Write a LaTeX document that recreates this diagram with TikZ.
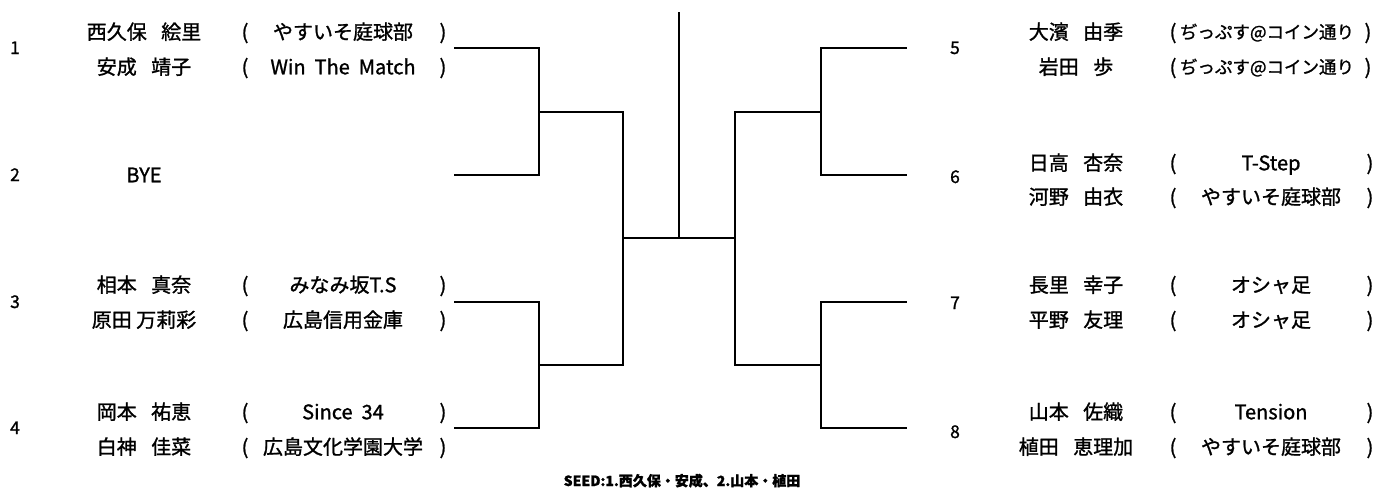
\documentclass[tikz,border=0pt]{standalone}
\usepackage{fontspec}
\setmainfont{Noto Sans CJK JP}[FakeBold=1.2]
\newcommand{\nsp}{\hspace{0.72em}}
\begin{document}
\begin{tikzpicture}[x=1pt,y=-1pt,
  br/.style={line width=1.7pt, line join=miter, line cap=rect},
  txt/.style={font=\fontsize{20}{20}\selectfont, inner sep=0pt, text height=16.5pt, text depth=2pt},
  smalltxt/.style={font=\fontsize{17.5}{17.5}\selectfont, inner sep=0pt, text height=15pt, text depth=2pt},
  num/.style={font=\fontsize{17.5}{17.5}\selectfont, inner sep=0pt, text height=13pt, text depth=1pt},
  seedtxt/.style={font=\bfseries\fontsize{14}{14}\selectfont, inner sep=0pt, text height=11.5pt, text depth=1.5pt}]
\useasboundingbox (0,0) rectangle (1377,488);

% ---------- left side texts ----------
\foreach \id/\y/\nm/\tm in {1a/32/西久保\nsp 絵里/やすいそ庭球部,
                             1b/67/安成\nsp 靖子/Win\ \ The\ \ Match,
                             3a/285/相本\nsp 真奈/みなみ坂T.S,
                             3b/320/原田 万莉彩/広島信用金庫,
                             4a/412/岡本\nsp 祐恵/Since\ \ 34,
                             4b/447/白神\nsp 佳菜/広島文化学園大学}{
  \node[txt] (nL\id) at (144,\y) {\nm};
  \node[txt] (oL\id) at (245,\y) {(};
  \node[txt] (tL\id) at (343,\y) {\tm};
  \node[txt] (cL\id) at (443,\y) {)};
}
\node[txt] (nL2) at (144,175) {BYE};

% ---------- right side texts ----------
\foreach \id/\y/\nm/\tm in {6a/163/日高\nsp 杏奈/T-Step,
                             6b/197/河野\nsp 由衣/やすいそ庭球部,
                             7a/285/長里\nsp 幸子/オシャ足,
                             7b/320/平野\nsp 友理/オシャ足,
                             8a/412/山本\nsp 佐織/Tension,
                             8b/447/植田\nsp 恵理加/やすいそ庭球部}{
  \node[txt] (nR\id) at (1076,\y) {\nm};
  \node[txt] (oR\id) at (1173,\y) {(};
  \node[txt] (tR\id) at (1271,\y) {\tm};
  \node[txt] (cR\id) at (1370,\y) {)};
}
\foreach \id/\y/\nm in {5a/32/大濱\nsp 由季, 5b/67/岩田\nsp 歩}{
  \node[txt] (nR\id) at (1076,\y) {\nm};
  \node[txt] (oR\id) at (1173,\y) {(};
  \node[smalltxt] (tR\id) at (1267,\y) {ぢっぷす@コイン通り};
  \node[txt] (cR\id) at (1368,\y) {)};
}

% ---------- draw numbers ----------
\node[num] (k1) at (15,48) {1};
\node[num] (k2) at (15,175) {2};
\node[num] (k3) at (15,302) {3};
\node[num] (k4) at (15,428) {4};
\node[num] (k5) at (955,48) {5};
\node[num] (k6) at (955,177) {6};
\node[num] (k7) at (955,303) {7};
\node[num] (k8) at (955,432) {8};

% ---------- bracket coordinates ----------
\coordinate (L1) at (455,48);
\coordinate (L2) at (455,175);
\coordinate (L3) at (455,302);
\coordinate (L4) at (455,428);
\coordinate (A12) at (539,112);
\coordinate (A34) at (539,365);
\coordinate (SL) at (623,238);
\coordinate (R5) at (906,48);
\coordinate (R6) at (906,175);
\coordinate (R7) at (906,302);
\coordinate (R8) at (906,428);
\coordinate (A56) at (821,112);
\coordinate (A78) at (821,365);
\coordinate (SR) at (735,238);
\coordinate (M) at (679,238);
\coordinate (T) at (679,13);

\draw[br] (L1) -| (A12) |- (L2);
\draw[br] (L3) -| (A34) |- (L4);
\draw[br] (A12) -| (SL) |- (A34);
\draw[br] (R5) -| (A56) |- (R6);
\draw[br] (R7) -| (A78) |- (R8);
\draw[br] (A56) -| (SR) |- (A78);
\draw[br] (SL) -- (SR);
\draw[br] (M) -- (T);

\node[seedtxt] (seed) at (682,481) {SEED:1.西久保・安成、2.山本・植田};
\end{tikzpicture}
\end{document}
